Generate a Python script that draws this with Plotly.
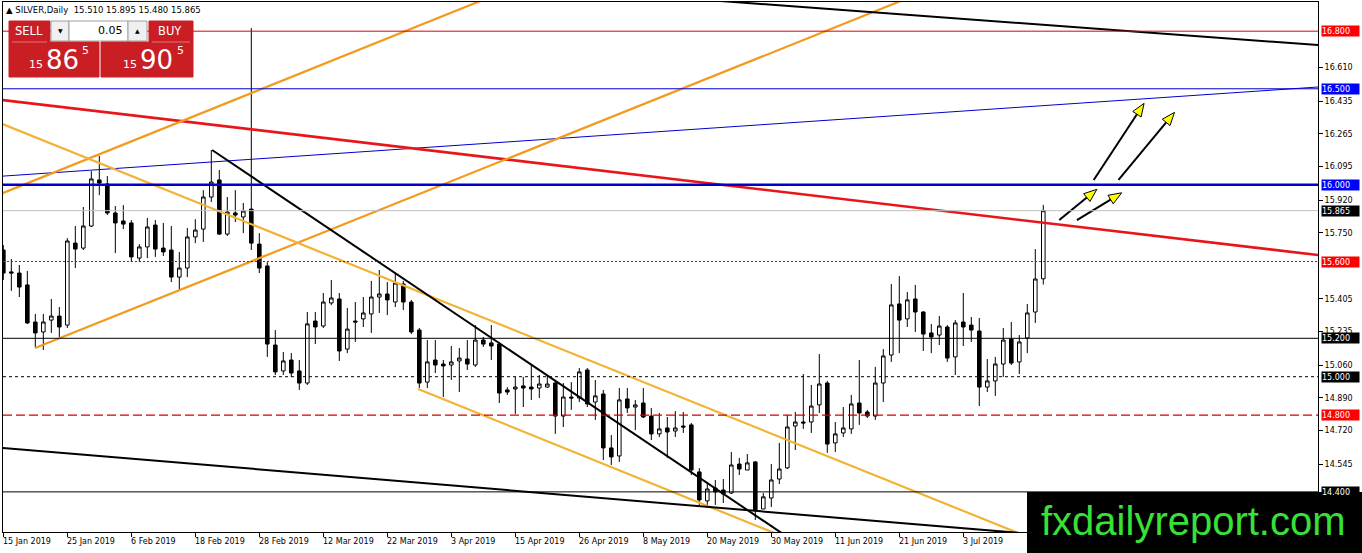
import math
import plotly.graph_objects as go

# ---------------- data ----------------
opens = [15.660, 15.546, 15.540, 15.478, 15.285, 15.233, 15.295, 15.316, 15.269, 15.696,
         15.670, 15.785, 16.025, 16.004, 15.853, 15.811, 15.801, 15.618, 15.676, 15.790,
         15.670, 15.660, 15.519, 15.566, 15.728, 15.769, 15.936, 16.025, 15.743, 15.853,
         15.832, 15.873, 15.691, 15.577, 15.165, 15.030, 15.087, 15.030, 14.967, 15.290,
         15.264, 15.384, 15.405, 15.144, 15.290, 15.301, 15.327, 15.415, 15.431, 15.389,
         15.483, 15.389, 15.243, 14.972, 15.087, 15.066, 15.061, 15.082, 15.092, 15.061,
         15.191, 15.176, 15.170, 14.931, 14.936, 14.952, 14.946, 14.941, 14.946, 14.967,
         14.795, 14.894, 14.889, 15.035, 14.868, 14.910, 14.629, 14.587, 14.884, 14.842,
         14.863, 14.795, 14.702, 14.733, 14.717, 14.743, 14.749, 14.504, 14.353, 14.420,
         14.410, 14.394, 14.545, 14.514, 14.556, 14.311, 14.368, 14.467, 14.525, 14.743,
         14.764, 14.764, 14.853, 14.967, 14.655, 14.707, 14.728, 14.863, 14.816, 14.795,
         14.967, 15.113, 15.379, 15.301, 15.405, 15.337, 15.228, 15.217, 15.259, 15.103,
         15.285, 15.269, 15.238, 14.946, 14.978, 15.066, 15.196, 15.077, 15.202, 15.337,
         15.510]
highs = [15.686, 15.613, 15.582, 15.551, 15.327, 15.327, 15.405, 15.363, 15.722, 15.785,
         15.884, 16.071, 16.150, 16.045, 15.889, 15.894, 15.816, 15.691, 15.827, 15.816,
         15.801, 15.785, 15.650, 15.775, 15.821, 15.972, 16.181, 16.077, 15.936, 15.972,
         15.905, 16.816, 15.748, 15.597, 15.243, 15.129, 15.123, 15.087, 15.337, 15.337,
         15.436, 15.504, 15.436, 15.358, 15.389, 15.415, 15.499, 15.556, 15.493, 15.540,
         15.499, 15.400, 15.254, 15.191, 15.191, 15.087, 15.160, 15.150, 15.191, 15.269,
         15.207, 15.269, 15.181, 14.946, 14.999, 14.999, 15.061, 15.009, 15.009, 14.983,
         14.967, 14.972, 15.045, 15.045, 14.983, 14.931, 14.696, 14.941, 14.941, 14.879,
         14.941, 14.837, 14.811, 14.790, 14.821, 14.816, 14.759, 14.524, 14.446, 14.462,
         14.467, 14.608, 14.577, 14.597, 14.561, 14.394, 14.545, 14.655, 14.801, 14.816,
         15.014, 14.957, 15.118, 14.978, 14.764, 14.842, 14.905, 15.087, 14.827, 15.051,
         15.144, 15.483, 15.524, 15.441, 15.478, 15.342, 15.275, 15.316, 15.269, 15.295,
         15.436, 15.311, 15.306, 15.092, 15.103, 15.254, 15.285, 15.217, 15.379, 15.665,
         15.895]
lows = [15.504, 15.447, 15.415, 15.275, 15.150, 15.139, 15.228, 15.207, 15.254, 15.566,
        15.660, 15.780, 15.946, 15.842, 15.644, 15.769, 15.597, 15.597, 15.618, 15.624,
        15.629, 15.493, 15.452, 15.519, 15.696, 15.702, 15.910, 15.738, 15.733, 15.806,
        15.748, 15.660, 15.540, 15.103, 15.009, 15.009, 14.999, 14.931, 14.957, 15.170,
        15.254, 15.373, 15.082, 15.123, 15.181, 15.259, 15.228, 15.332, 15.321, 15.363,
        15.347, 15.222, 14.941, 14.941, 15.019, 14.894, 14.983, 14.920, 15.035, 15.051,
        15.155, 15.087, 14.863, 14.905, 14.806, 14.842, 14.879, 14.889, 14.941, 14.702,
        14.738, 14.827, 14.868, 14.842, 14.775, 14.566, 14.540, 14.556, 14.811, 14.722,
        14.785, 14.670, 14.686, 14.577, 14.686, 14.707, 14.488, 14.332, 14.332, 14.332,
        14.342, 14.389, 14.488, 14.514, 14.254, 14.311, 14.321, 14.441, 14.519, 14.618,
        14.728, 14.707, 14.811, 14.603, 14.608, 14.686, 14.702, 14.749, 14.785, 14.775,
        14.868, 15.077, 15.123, 15.259, 15.233, 15.134, 15.123, 15.165, 15.077, 15.009,
        15.160, 15.181, 14.847, 14.920, 14.900, 14.999, 15.061, 15.014, 15.123, 15.280,
        15.480]
closes = [15.540, 15.540, 15.467, 15.280, 15.228, 15.285, 15.316, 15.259, 15.707, 15.665,
          15.785, 16.030, 16.009, 15.853, 15.801, 15.795, 15.624, 15.676, 15.780, 15.665,
          15.650, 15.519, 15.566, 15.728, 15.764, 15.936, 16.014, 15.743, 15.858, 15.842,
          15.863, 15.696, 15.566, 15.170, 15.025, 15.082, 15.019, 14.967, 15.275, 15.259,
          15.389, 15.410, 15.134, 15.248, 15.285, 15.332, 15.415, 15.431, 15.400, 15.488,
          15.389, 15.233, 14.967, 15.077, 15.061, 15.056, 15.077, 15.097, 15.066, 15.191,
          15.170, 15.160, 14.915, 14.920, 14.946, 14.941, 14.936, 14.962, 14.962, 14.795,
          14.894, 14.889, 15.025, 14.858, 14.900, 14.629, 14.582, 14.879, 14.837, 14.853,
          14.790, 14.702, 14.728, 14.712, 14.733, 14.738, 14.514, 14.358, 14.415, 14.400,
          14.389, 14.540, 14.519, 14.551, 14.306, 14.374, 14.462, 14.519, 14.738, 14.764,
          14.759, 14.847, 14.962, 14.649, 14.702, 14.733, 14.858, 14.811, 14.795, 14.967,
          15.108, 15.374, 15.295, 15.400, 15.337, 15.222, 15.207, 15.264, 15.097, 15.280,
          15.259, 15.243, 14.946, 14.978, 15.066, 15.191, 15.071, 15.181, 15.332, 15.509,
          15.865]
bars = list(range(len(opens)))

date_ticks = [0, 8, 16, 24, 32, 40, 48, 56, 64, 72, 80, 88, 96, 104, 112, 120]
date_labels = ["15 Jan 2019", "25 Jan 2019", "6 Feb 2019", "18 Feb 2019", "28 Feb 2019",
               "12 Mar 2019", "22 Mar 2019", "3 Apr 2019", "15 Apr 2019", "26 Apr 2019",
               "8 May 2019", "20 May 2019", "30 May 2019", "11 Jun 2019", "21 Jun 2019",
               "3 Jul 2019"]
# visible price ticks (16.780, 15.580 and 14.375 sit under the level tags)
price_ticks = [14.545, 14.720, 14.890, 15.060, 15.235, 15.405,
               15.750, 15.920, 16.095, 16.265, 16.435, 16.610]

# horizontal levels
levels = [16.800, 16.500, 16.000, 15.865, 15.600, 15.200, 15.000, 14.800, 14.400]
level_colors = ["#E00000", "#0000CD", "#0000CD", "#C0C0C0", "#D00000",
                "#000000", "#000000", "#D00000", "#000000"]
level_widths = [1, 1, 2.5, 1, 1, 1, 1, 1.2, 1]
level_dash = ["solid", "solid", "solid", "solid", "2px,2px", "solid", "3px,3px", "9px,4px", "solid"]
level_tag_bg = ["#FF0000", "#0000FF", "#0000FF", "#000000", "#FF0000",
                "#000000", "#000000", "#FF0000", "#000000"]

# trend lines: two anchor points (bar index, price)
blue_ray = [(-0.04, 16.045), (164.3, 16.509)]
red_ray = [(-0.04, 16.441), (164.3, 15.634)]
orange_up_low = [(3.96, 15.149), (111.5, 16.946)]
orange_up_high = [(-0.04, 15.957), (59.3, 16.952)]
orange_dn_high = [(7.96, 16.181), (87.1, 14.853)]
orange_dn_low = [(51.85, 14.936), (87.7, 14.332)]
black_dn = [(26.1, 16.181), (97.1, 14.191)]
black_low = [(-0.04, 14.629), (124.2, 14.196)]
black_top = [(93.3, 16.946), (164.3, 16.728)]

# arrows: (tail, tip) in (bar index, price)
arrows = [((132.0, 15.816), (136.7, 15.976)),
          ((134.2, 15.816), (139.8, 15.958)),
          ((136.3, 16.025), (142.6, 16.424)),
          ((139.4, 16.025), (146.4, 16.377))]

# ---------------- geometry ----------------
W, H = 1362, 553
PL, PR, PT, PB = 3, 1318, 2, 532
XR = [-0.04, 164.34]
YR = [14.191, 16.952]
PXX = (PR - PL) / (XR[1] - XR[0])
PXY = (PB - PT) / (YR[1] - YR[0])


def PX(px):
    return (px - PL) / (PR - PL)


def PY(py):
    return (PB - py) / (PB - PT)


FONT = "DejaVu Sans"

fig = go.Figure()
fig.add_trace(go.Candlestick(
    x=bars, open=opens, high=highs, low=lows, close=closes,
    increasing=dict(line=dict(color="black", width=1), fillcolor="white"),
    decreasing=dict(line=dict(color="black", width=1), fillcolor="black"),
    whiskerwidth=0, showlegend=False, hoverinfo="skip"))


def line_through(pts, back=True, fwd=True):
    (x1, y1), (x2, y2) = pts
    s = (y2 - y1) / (x2 - x1)
    xa = XR[0] - 10 if back else x1
    xb = XR[1] + 10 if fwd else x2
    return [xa, xb], [y1 + s * (xa - x1), y1 + s * (xb - x1)]


trend_specs = [
    (blue_ray, True, True, "#0000CD", 1),
    (red_ray, True, True, "#E8161B", 2.6),
    (orange_up_low, False, True, "#F39A1E", 2.2),
    (orange_up_high, True, True, "#F39A1E", 2.2),
    (orange_dn_high, True, True, "#F2B233", 2.2),
    (orange_dn_low, False, True, "#F2B233", 2.2),
    (black_dn, False, True, "#000000", 2),
    (black_low, True, True, "#000000", 2),
    (black_top, True, True, "#000000", 2),
]
for pts, back, fwd, col, wd in trend_specs:
    xs, ys = line_through(pts, back, fwd)
    fig.add_trace(go.Scatter(x=xs, y=ys, mode="lines", line=dict(color=col, width=wd),
                             showlegend=False, hoverinfo="skip"))

shapes = []
for v, c, w, d in zip(levels, level_colors, level_widths, level_dash):
    shapes.append(dict(type="line", xref="paper", x0=0, x1=1, yref="y", y0=v, y1=v,
                       line=dict(color=c, width=w, dash=d)))

# arrows
for tail, tip in arrows:
    dx = (tip[0] - tail[0]) * PXX
    dy = (tip[1] - tail[1]) * PXY
    n = math.hypot(dx, dy)
    ux, uy = dx / n, dy / n
    L, Wd = 13, 10
    bx, by = -ux * L, -uy * L
    nx, ny = -uy, ux
    pts = [(0, 0), (bx + nx * Wd / 2, by + ny * Wd / 2), (bx - nx * Wd / 2, by - ny * Wd / 2)]
    dpts = [(tip[0] + ox / PXX, tip[1] + oy / PXY) for ox, oy in pts]
    base = (tip[0] + bx / PXX, tip[1] + by / PXY)
    fig.add_trace(go.Scatter(x=[tail[0], base[0]], y=[tail[1], base[1]], mode="lines",
                             line=dict(color="black", width=2), showlegend=False, hoverinfo="skip"))
    path = "M {} {} L {} {} L {} {} Z".format(*[c for p in dpts for c in p])
    shapes.append(dict(type="path", xref="x", yref="y", path=path, fillcolor="#FFFF00",
                       line=dict(color="black", width=1)))

annotations = []
# date labels
for t, lab in zip(date_ticks, date_labels):
    annotations.append(dict(x=t, xref="x", y=0, yref="paper", text=lab, showarrow=False,
                            xanchor="left", yanchor="top", yshift=-3, xshift=-2,
                            font=dict(family=FONT, size=8, color="black")))
# price tags
for v, bg in zip(levels, level_tag_bg):
    annotations.append(dict(x=1, xref="paper", y=v, yref="y", text="{:.3f}".format(v),
                            showarrow=False, xanchor="left", yanchor="middle", xshift=3,
                            bgcolor=bg, width=37, height=10, align="left", borderpad=0,
                            font=dict(family=FONT, size=8, color="white")))

# header
annotations.append(dict(x=PX(4), xref="paper", y=PY(10), yref="paper", showarrow=False,
                        text="\u25B2 SILVER,Daily  15.510 15.895 15.480 15.865",
                        xanchor="left", yanchor="middle",
                        font=dict(family=FONT, size=8.5, color="black")))

# trade panel
RED = "#C81E24"
panel = [
    (9, 21, 50, 42, RED, None),        # SELL
    (51, 21, 69, 41, "#F0F0F0", "#A0A0A0"),  # down
    (69, 21, 128, 41, "#FFFFFF", "#A0A0A0"),  # lot
    (128, 21, 147, 41, "#F0F0F0", "#A0A0A0"),  # up
    (149, 21, 193, 42, RED, None),     # BUY
    (9, 42, 99, 77, RED, None),        # sell price
    (101, 42, 193, 77, RED, None),     # buy price
]
for x0, y0, x1, y1, fc, lc in panel:
    shapes.append(dict(type="rect", xref="paper", yref="paper", x0=PX(x0), x1=PX(x1),
                       y0=PY(y1), y1=PY(y0), fillcolor=fc,
                       line=dict(color=lc if lc else fc, width=1)))
shapes.append(dict(type="line", xref="paper", yref="paper", x0=PX(12), x1=PX(47), y0=PY(42), y1=PY(42),
                   line=dict(color="#E87070", width=1)))
shapes.append(dict(type="line", xref="paper", yref="paper", x0=PX(152), x1=PX(190), y0=PY(42), y1=PY(42),
                   line=dict(color="#E87070", width=1)))

panel_text = [
    ("SELL", 29, 31, 11.5, "white", "center"),
    ("BUY", 170, 31, 11.5, "white", "center"),
    ("0.05", 125, 31, 11, "black", "right"),
    ("\u25BC", 60, 31, 6, "black", "center"),
    ("\u25B2", 137, 31, 6, "black", "center"),
    ("15", 36, 65, 11, "white", "center"),
    ("86", 62, 60, 26, "white", "center"),
    ("5", 85, 51, 11, "white", "center"),
    ("15", 130, 65, 11, "white", "center"),
    ("90", 156, 60, 26, "white", "center"),
    ("5", 180, 51, 11, "white", "center"),
]
for txt, x, y, sz, col, anc in panel_text:
    annotations.append(dict(x=PX(x), xref="paper", y=PY(y), yref="paper", text=txt, showarrow=False,
                            xanchor=anc, yanchor="middle",
                            font=dict(family=FONT, size=sz, color=col)))

# watermark
shapes.append(dict(type="rect", xref="paper", yref="paper", x0=PX(1027), x1=PX(1370),
                   y0=PY(560), y1=PY(492), fillcolor="black", line=dict(width=0)))
annotations.append(dict(x=PX(1193), xref="paper", y=PY(521), yref="paper", text="fxdailyreport.com",
                        showarrow=False, xanchor="center", yanchor="middle",
                        font=dict(family="Liberation Sans", size=40, color="#38E038")))

fig.update_layout(
    width=W, height=H,
    margin=dict(l=PL, r=W - PR, t=PT, b=H - PB),
    paper_bgcolor="white", plot_bgcolor="white",
    showlegend=False,
    boxgap=0.36,
    shapes=shapes, annotations=annotations,
    xaxis=dict(range=XR, showgrid=False, zeroline=False, showline=True, linecolor="black",
               linewidth=1, mirror=True, ticks="outside", ticklen=4, tickcolor="black",
               tickvals=date_ticks, showticklabels=False, rangeslider=dict(visible=False),
               fixedrange=True),
    yaxis=dict(range=YR, side="right", showgrid=False, zeroline=False, showline=True,
               linecolor="black", linewidth=1, mirror=True, ticks="outside", ticklen=4,
               tickcolor="black", tickvals=price_ticks, tickformat=".3f",
               tickfont=dict(family=FONT, size=8, color="black"), fixedrange=True),
)

fig.write_html("out.html", config={"displayModeBar": False},
               post_script="document.body.style.margin='0px';document.body.style.padding='0px';")
